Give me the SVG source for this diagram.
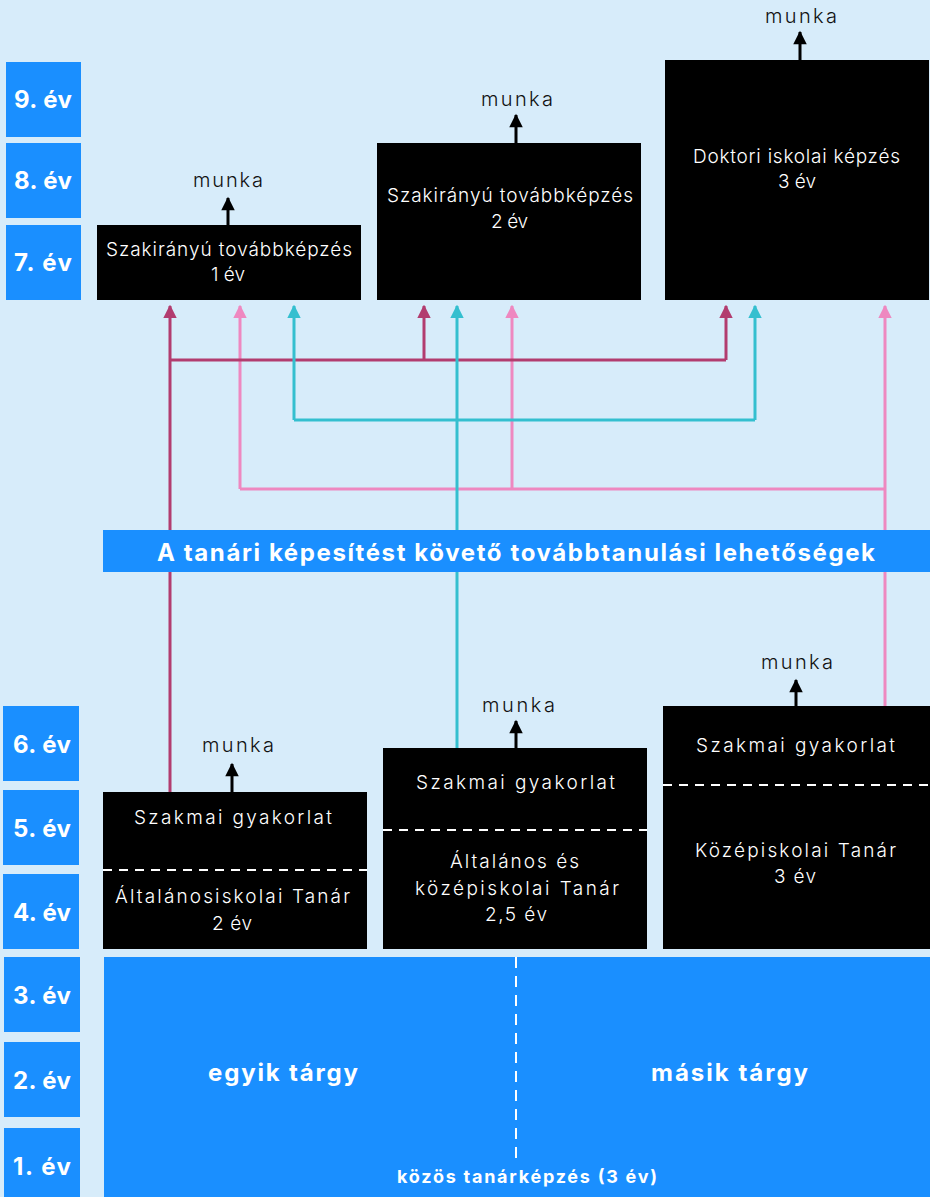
<svg xmlns="http://www.w3.org/2000/svg" width="930" height="1197" viewBox="0 0 930 1197">
<defs>
<style>
.yr{fill:#1a8fff}
.yt{font-family:Inter,"Liberation Sans",sans-serif;font-weight:700;font-size:24px;fill:#fff;text-anchor:middle}
.box{fill:#000}
.bt{font-family:Inter,"Liberation Sans",sans-serif;font-weight:300;font-size:19px;fill:#fff;text-anchor:middle}
.mk{font-family:Inter,"Liberation Sans",sans-serif;font-weight:300;font-size:20px;fill:#111;text-anchor:middle}
.dash{stroke:#fff;stroke-width:2;stroke-dasharray:9 7;fill:none}
.blk{stroke:#000;stroke-width:3;fill:none;marker-end:url(#ab)}
.mag{stroke:#b23c6f;stroke-width:3;fill:none}
.pnk{stroke:#ee88c0;stroke-width:3;fill:none}
.cyn{stroke:#34bfcf;stroke-width:3;fill:none}
.big{font-family:Inter,"Liberation Sans",sans-serif;font-weight:700;fill:#fff;text-anchor:middle}
</style>
<marker id="ab" viewBox="0 0 10 10" refX="9" refY="5" markerWidth="5" markerHeight="4.5" orient="auto" markerUnits="strokeWidth"><path d="M0,0 L10,5 L0,10 z" fill="#000"/></marker>
<marker id="am" viewBox="0 0 10 10" refX="9" refY="5" markerWidth="4.5" markerHeight="5" orient="auto" markerUnits="strokeWidth"><path d="M0,0 L10,5 L0,10 z" fill="#b23c6f"/></marker>
<marker id="ap" viewBox="0 0 10 10" refX="9" refY="5" markerWidth="4.5" markerHeight="5" orient="auto" markerUnits="strokeWidth"><path d="M0,0 L10,5 L0,10 z" fill="#ee88c0"/></marker>
<marker id="ac" viewBox="0 0 10 10" refX="9" refY="5" markerWidth="4.5" markerHeight="5" orient="auto" markerUnits="strokeWidth"><path d="M0,0 L10,5 L0,10 z" fill="#34bfcf"/></marker>
</defs>
<rect x="0" y="0" width="930" height="1197" fill="#d7ecfa"/>

<g id="years">
<rect class="yr" x="6" y="62" width="75" height="75"/><text class="yt" x="43" y="108" textLength="58">9. év</text>
<rect class="yr" x="6" y="143" width="75" height="75"/><text class="yt" x="43" y="189" textLength="58">8. év</text>
<rect class="yr" x="6" y="225" width="75" height="75"/><text class="yt" x="43" y="271" textLength="58">7. év</text>
<rect class="yr" x="3" y="706" width="76" height="75"/><text class="yt" x="42" y="753" textLength="58">6. év</text>
<rect class="yr" x="3" y="790" width="76" height="75"/><text class="yt" x="42" y="837" textLength="58">5. év</text>
<rect class="yr" x="3" y="874" width="76" height="75"/><text class="yt" x="42" y="921" textLength="58">4. év</text>
<rect class="yr" x="4" y="957" width="76" height="75"/><text class="yt" x="42" y="1004" textLength="58">3. év</text>
<rect class="yr" x="4" y="1042" width="76" height="75"/><text class="yt" x="42" y="1089" textLength="58">2. év</text>
<rect class="yr" x="4" y="1128" width="76" height="75"/><text class="yt" x="42" y="1175" textLength="58">1. év</text>
</g>

<g id="connectors">
<path class="pnk" d="M240,489 V306" marker-end="url(#ap)"/>
<path class="pnk" d="M512,489 V306" marker-end="url(#ap)"/>
<path class="pnk" d="M885,706 V306" marker-end="url(#ap)"/>
<path class="pnk" d="M240,489 H885"/>
<path class="mag" d="M170,792 V306" marker-end="url(#am)"/>
<path class="mag" d="M424,360 V306" marker-end="url(#am)"/>
<path class="mag" d="M726,360 V306" marker-end="url(#am)"/>
<path class="mag" d="M170,360 H726"/>
<path class="cyn" d="M457,748 V306" marker-end="url(#ac)"/>
<path class="cyn" d="M294,420 V306" marker-end="url(#ac)"/>
<path class="cyn" d="M755,420 V306" marker-end="url(#ac)"/>
<path class="cyn" d="M294,420 H755"/>
<path class="blk" d="M228,225 V198"/>
<path class="blk" d="M516,143 V115"/>
<path class="blk" d="M800,60 V32"/>
<path class="blk" d="M232,792 V764"/>
<path class="blk" d="M516,748 V721"/>
<path class="blk" d="M796,706 V680"/>
</g>

<g id="node-szak1">
<rect class="box" x="97" y="225" width="264" height="75"/>
<text class="bt" x="229" y="256" textLength="246">Szakirányú továbbképzés</text>
<text class="bt" x="228" y="281" textLength="34">1 év</text>
<text class="mk" x="228" y="187" textLength="70">munka</text>
</g>
<g id="node-szak2">
<rect class="box" x="377" y="143" width="264" height="157"/>
<text class="bt" x="510" y="202" textLength="246">Szakirányú továbbképzés</text>
<text class="bt" x="509.5" y="228" textLength="37">2 év</text>
<text class="mk" x="517" y="106" textLength="72">munka</text>
</g>
<g id="node-doktori">
<rect class="box" x="665" y="60" width="264" height="240"/>
<text class="bt" x="796.5" y="163" textLength="207">Doktori iskolai képzés</text>
<text class="bt" x="797" y="188" textLength="38">3 év</text>
<text class="mk" x="801" y="23" textLength="72">munka</text>
</g>

<g id="banner">
<rect x="103" y="530" width="827" height="42" fill="#1a8fff"/>
<text class="big" x="516" y="561" font-size="24" textLength="718">A tanári képesítést követő továbbtanulási lehetőségek</text>
</g>

<g id="node-altalanos">
<rect class="box" x="103" y="792" width="264" height="157"/>
<line class="dash" x1="103" y1="870" x2="367" y2="870"/>
<text class="bt" x="233" y="824" textLength="198">Szakmai gyakorlat</text>
<text class="bt" x="232.5" y="903" textLength="235">Általánosiskolai Tanár</text>
<text class="bt" x="232" y="930" textLength="40">2 év</text>
<text class="mk" x="238" y="752" textLength="72">munka</text>
</g>
<g id="node-altkoz">
<rect class="box" x="383" y="748" width="264" height="201"/>
<line class="dash" x1="383" y1="830" x2="647" y2="830"/>
<text class="bt" x="515.5" y="789" textLength="199">Szakmai gyakorlat</text>
<text class="bt" x="514.5" y="868" textLength="129">Általános és</text>
<text class="bt" x="517" y="895" textLength="204">középiskolai Tanár</text>
<text class="bt" x="516" y="921" textLength="62">2,5 év</text>
<text class="mk" x="518.5" y="712" textLength="73">munka</text>
</g>
<g id="node-kozep">
<rect class="box" x="663" y="706" width="267" height="243"/>
<line class="dash" x1="663" y1="785" x2="930" y2="785"/>
<text class="bt" x="795.5" y="752" textLength="199">Szakmai gyakorlat</text>
<text class="bt" x="795.5" y="857" textLength="201">Középiskolai Tanár</text>
<text class="bt" x="795" y="883" textLength="42">3 év</text>
<text class="mk" x="797" y="669" textLength="72">munka</text>
</g>

<g id="node-kozos">
<rect x="104" y="957" width="826" height="240" fill="#1a8fff"/>
<line stroke="#fff" stroke-width="2" stroke-dasharray="11 8" x1="516" y1="957" x2="516" y2="1158"/>
<text class="big" x="283" y="1081" font-size="24" textLength="150">egyik tárgy</text>
<text class="big" x="729.5" y="1081" font-size="24" textLength="157">másik tárgy</text>
<text class="big" x="527" y="1183" font-size="18" textLength="260">közös tanárképzés (3 év)</text>
</g>
</svg>
